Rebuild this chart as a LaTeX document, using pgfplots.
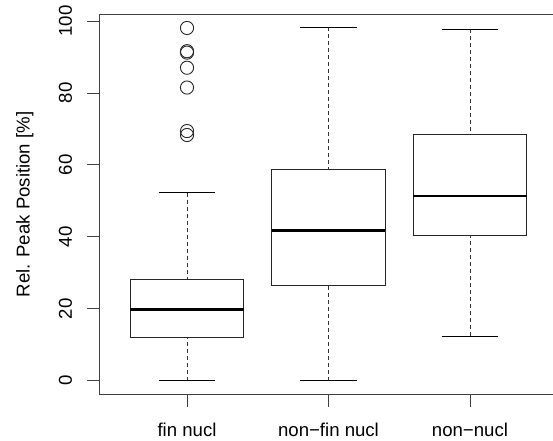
\documentclass[border=0pt]{standalone}
\usepackage{fontspec}
\setmainfont{Liberation Sans}
\usepackage{pgfplots}
\pgfplotsset{compat=1.18}
\usepgfplotslibrary{statistics}
\begin{document}
\fontsize{18.6bp}{22bp}\selectfont
\begin{tikzpicture}
\clip (0,0) rectangle (553bp,441bp);
\begin{axis}[
  at={(99bp,46.5bp)}, anchor=south west,
  scale only axis, width=458.7bp, height=380bp,
  xmin=0.378, xmax=3.62, ymin=-3.84, ymax=101.8,
  xtick={1,2,3},
  xticklabels={fin nucl, non−fin nucl, non−nucl},
  ytick={0,20,40,60,80,100},
  tick pos=left, tick align=outside, major tick length=12bp,
  axis line style={black!75, line width=0.8bp},
  every tick/.style={black!75, line width=0.8bp},
  /pgf/number format/assume math mode=true,
  yticklabel style={rotate=90, anchor=base},
  xticklabel style={anchor=base},
  yticklabel shift=15bp,
  xticklabel shift=30bp,
  ylabel={Rel. Peak Position [\%]},
  ylabel style={at={(axis description cs:-0.1515,0.5)}, anchor=base},
  boxplot/draw direction=y,
  boxplot/box extend=0.8,
  boxplot/whisker extend=0.4,
  boxplot/every box/.style={black!85, line width=0.8bp},
  boxplot/every median/.style={black, line width=2.6bp},
  boxplot/draw/lower whisker/.code={%
    \draw[black!80, line width=0.8bp, dash pattern=on 4bp off 3bp]
      (boxplot box cs:\pgfplotsboxplotvalue{lower whisker},0.5) --
      (boxplot box cs:\pgfplotsboxplotvalue{lower quartile},0.5);
    \draw[black, line width=0.8bp]
      (boxplot whisker cs:\pgfplotsboxplotvalue{lower whisker},0) --
      (boxplot whisker cs:\pgfplotsboxplotvalue{lower whisker},1);
  },
  boxplot/draw/upper whisker/.code={%
    \draw[black!80, line width=0.8bp, dash pattern=on 4bp off 3bp]
      (boxplot box cs:\pgfplotsboxplotvalue{upper whisker},0.5) --
      (boxplot box cs:\pgfplotsboxplotvalue{upper quartile},0.5);
    \draw[black, line width=0.8bp]
      (boxplot whisker cs:\pgfplotsboxplotvalue{upper whisker},0) --
      (boxplot whisker cs:\pgfplotsboxplotvalue{upper whisker},1);
  },
]
\addplot[black, solid, mark=o, mark size=6.6bp,
  mark options={line width=0.9bp, black!85},
  boxplot prepared={draw position=1, lower whisker=0, lower quartile=11.95,
    median=19.85, upper quartile=28.27, upper whisker=52.27}]
  table[row sep=\\, y index=0] {data\\ 98.05\\ 91.6\\ 91.2\\ 87.0\\ 81.5\\ 69.4\\ 68.3\\};
\addplot[black, solid, mark=o, mark size=6.6bp,
  boxplot prepared={draw position=2, lower whisker=0, lower quartile=26.5,
    median=41.8, upper quartile=58.6, upper whisker=98.25}]
  coordinates {};
\addplot[black, solid, mark=o, mark size=6.6bp,
  boxplot prepared={draw position=3, lower whisker=12.4, lower quartile=40.4,
    median=51.3, upper quartile=68.4, upper whisker=97.7}]
  coordinates {};
\end{axis}
\end{tikzpicture}
\end{document}
